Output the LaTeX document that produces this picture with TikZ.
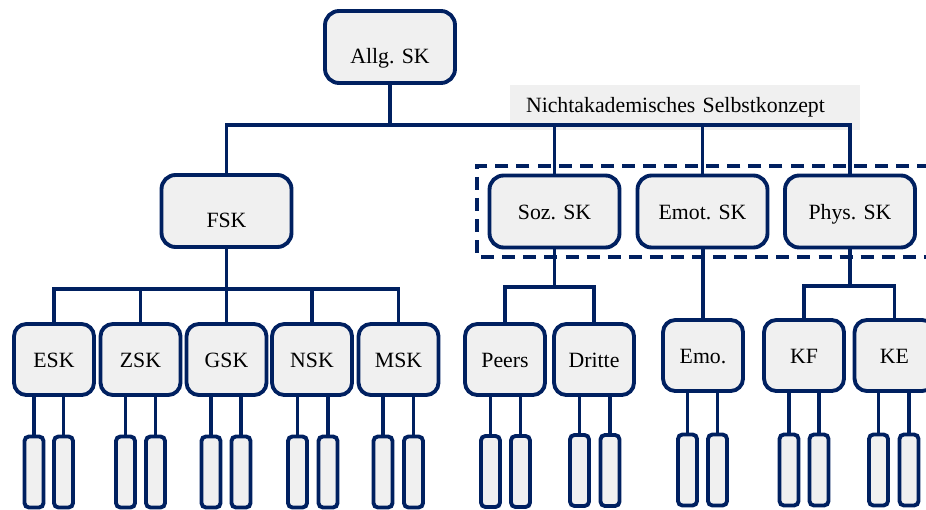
\documentclass[tikz,border=0pt]{standalone}
\usepackage{fontspec}
\setmainfont{Liberation Serif}
\usepackage{tikz}

\definecolor{skblue}{RGB}{0,32,96}
\definecolor{skgray}{RGB}{240,240,240}

\tikzset{
    skbox/.style={draw=skblue, fill=skgray, line width=2.2pt, rounded corners=8pt, text height=0.86em, text depth=0pt},
    bigbox/.style={skbox, minimum width=2.6cm, minimum height=1.44cm},
    midbox/.style={skbox, rounded corners=7pt, minimum width=1.6cm, minimum height=1.42cm},
    itembox/.style={draw=skblue, fill=skgray, line width=2.2pt, rounded corners=2.5pt, minimum width=0.38cm, minimum height=1.42cm, inner sep=0pt},
    lowtext/.style={text height=1.9em, text depth=0pt},
    conn/.style={draw=skblue, line width=2.2pt},
    dashframe/.style={draw=skblue, line width=2.2pt, dash pattern=on 7.4pt off 4.6pt},
    tagbox/.style={fill=skgray, minimum width=7cm, minimum height=0.9cm, text width=6.36cm, inner xsep=0.32cm, align=left}
}

\begin{document}
\begin{tikzpicture}[x=0.02cm, y=-0.02cm, font=\fontsize{12.4pt}{14pt}\selectfont]
    \useasboundingbox (0,0) rectangle (926,510);
    \clip (0,0) rectangle (926,510);

    % Label of the non-academic part
    \node[tagbox] (tag) at (685,107.5) {Nichtakademisches Selbstkonzept};

    % Top level
    \node[bigbox, lowtext] (allg) at (390,47) {Allg. SK};

    % Second level
    \node[bigbox, lowtext] (fsk) at (226.5,211) {FSK};
    \node[bigbox] (soz) at (554.5,211.5) {Soz. SK};
    \node[bigbox] (emot) at (702.5,211.5) {Emot. SK};
    \node[bigbox] (phys) at (850,211.5) {Phys. SK};

    % Dashed frame round the non-academic boxes
    \draw[dashframe] (930,166) -- (477,166) -- (477,257) -- (930,257);

    % Third level
    \node[midbox] (esk) at (54,359.5) {ESK};
    \node[midbox] (zsk) at (140.5,359.5) {ZSK};
    \node[midbox] (gsk) at (226.5,359.5) {GSK};
    \node[midbox] (nsk) at (312,359.5) {NSK};
    \node[midbox] (msk) at (398.5,359.5) {MSK};
    \node[midbox] (peers) at (505,359.5) {Peers};
    \node[midbox] (dritte) at (594,359.5) {Dritte};
    \node[midbox] (emo) at (703,355.5) {Emo.};
    \node[midbox] (kf) at (804,355.5) {KF};
    \node[midbox] (ke) at (894.5,355.5) {KE};

    % Items
    \node[itembox] (esk1) at (34,472) {};    \node[itembox] (esk2) at (63.5,472) {};
    \node[itembox] (zsk1) at (125.5,472) {}; \node[itembox] (zsk2) at (155.5,472) {};
    \node[itembox] (gsk1) at (211,472) {};   \node[itembox] (gsk2) at (241,472) {};
    \node[itembox] (nsk1) at (297.5,472) {}; \node[itembox] (nsk2) at (328,472) {};
    \node[itembox] (msk1) at (383,472) {};   \node[itembox] (msk2) at (413.5,472) {};
    \node[itembox] (peers1) at (490.5,471.5) {}; \node[itembox] (peers2) at (520.5,471.5) {};
    \node[itembox] (dritte1) at (579.5,470.5) {}; \node[itembox] (dritte2) at (610,470.5) {};
    \node[itembox] (emo1) at (687.5,470) {};   \node[itembox] (emo2) at (717.5,470) {};
    \node[itembox] (kf1) at (789,470) {};      \node[itembox] (kf2) at (819,470) {};
    \node[itembox] (ke1) at (878.5,470) {};    \node[itembox] (ke2) at (909,470) {};

    % Top bus
    \coordinate (topbus) at (0,125);
    \draw[conn] (allg.south) -- (allg.south |- topbus);
    \draw[conn] (fsk.north) |- (phys.north |- topbus) -- (phys.north);
    \draw[conn] (soz.north) -- (soz.north |- topbus);
    \draw[conn] (emot.north) -- (emot.north |- topbus);

    % FSK bus
    \coordinate (fskbus) at (0,289);
    \draw[conn] (fsk.south) -- (fsk.south |- fskbus);
    \draw[conn] (esk.north) |- (msk.north |- fskbus) -- (msk.north);
    \draw[conn] (zsk.north) -- (zsk.north |- fskbus);
    \draw[conn] (gsk.north) -- (gsk.north |- fskbus);
    \draw[conn] (nsk.north) -- (nsk.north |- fskbus);

    % Soz. bus
    \coordinate (sozbus) at (0,287);
    \draw[conn] (soz.south) -- (soz.south |- sozbus);
    \draw[conn] (peers.north) |- (dritte.north |- sozbus) -- (dritte.north);

    % Emot.
    \draw[conn] (emo.north) -- (emo.north |- emot.south);

    % Phys. bus
    \coordinate (physbus) at (0,286);
    \draw[conn] (phys.south) -- (phys.south |- physbus);
    \draw[conn] (kf.north) |- (ke.north |- physbus) -- (ke.north);

    % Item stems
    \draw[conn] (esk1.north) -- (esk1.north |- esk.south);     \draw[conn] (esk2.north) -- (esk2.north |- esk.south);
    \draw[conn] (zsk1.north) -- (zsk1.north |- zsk.south);     \draw[conn] (zsk2.north) -- (zsk2.north |- zsk.south);
    \draw[conn] (gsk1.north) -- (gsk1.north |- gsk.south);     \draw[conn] (gsk2.north) -- (gsk2.north |- gsk.south);
    \draw[conn] (nsk1.north) -- (nsk1.north |- nsk.south);     \draw[conn] (nsk2.north) -- (nsk2.north |- nsk.south);
    \draw[conn] (msk1.north) -- (msk1.north |- msk.south);     \draw[conn] (msk2.north) -- (msk2.north |- msk.south);
    \draw[conn] (peers1.north) -- (peers1.north |- peers.south); \draw[conn] (peers2.north) -- (peers2.north |- peers.south);
    \draw[conn] (dritte1.north) -- (dritte1.north |- dritte.south); \draw[conn] (dritte2.north) -- (dritte2.north |- dritte.south);
    \draw[conn] (emo1.north) -- (emo1.north |- emo.south);     \draw[conn] (emo2.north) -- (emo2.north |- emo.south);
    \draw[conn] (kf1.north) -- (kf1.north |- kf.south);        \draw[conn] (kf2.north) -- (kf2.north |- kf.south);
    \draw[conn] (ke1.north) -- (ke1.north |- ke.south);        \draw[conn] (ke2.north) -- (ke2.north |- ke.south);
\end{tikzpicture}
\end{document}
